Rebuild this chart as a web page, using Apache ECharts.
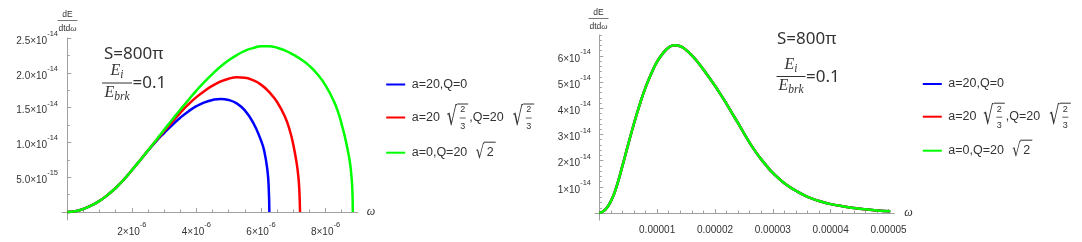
<!DOCTYPE html>
<html><head><meta charset="utf-8">
<script src="https://cdn.jsdelivr.net/npm/echarts@6/dist/echarts.min.js"></script>
<style>html,body{margin:0;padding:0;background:#fff}#c{width:1082px;height:242px}</style>
</head><body><div id="c"></div>
<script>
// ---------------- DATA ----------------
const seriesNames = ['a=20,Q=0', 'a=20 √(2/3),Q=20 √(2/3)', 'a=0,Q=20 √2'];
const seriesColors = ['#0000ff', '#ff0000', '#00ff00'];

// Left panel: [omega, dE/dtdω]
const leftBlue = [[0,0],[0.25e-6,0.11e-15],[0.5e-6,0.45e-15],[0.75e-6,0.95e-15],[1.0e-6,1.6e-15],[1.25e-6,2.45e-15],[1.5e-6,3.45e-15],[1.75e-6,4.65e-15],[2.0e-6,6.0e-15],[2.25e-6,7.4e-15],[2.5e-6,8.8e-15],[2.75e-6,10.15e-15],[3.0e-6,11.35e-15],[3.25e-6,12.5e-15],[3.5e-6,13.55e-15],[3.75e-6,14.45e-15],[4.0e-6,15.2e-15],[4.25e-6,15.75e-15],[4.5e-6,16.1e-15],[4.75e-6,16.25e-15],[5.0e-6,16.1e-15],[5.25e-6,15.6e-15],[5.5e-6,14.6e-15],[5.75e-6,12.9e-15],[6.0e-6,10.3e-15],[6.1e-6,8.8e-15],[6.2e-6,6.0e-15],[6.24e-6,3.5e-15],[6.26e-6,0]];
const leftRed = [[0,0],[0.25e-6,0.11e-15],[0.5e-6,0.45e-15],[0.75e-6,0.95e-15],[1.0e-6,1.6e-15],[1.25e-6,2.45e-15],[1.5e-6,3.45e-15],[1.75e-6,4.65e-15],[2.0e-6,6.0e-15],[2.25e-6,7.4e-15],[2.5e-6,8.85e-15],[2.75e-6,10.25e-15],[3.0e-6,11.6e-15],[3.25e-6,12.95e-15],[3.5e-6,14.25e-15],[3.75e-6,15.45e-15],[4.0e-6,16.5e-15],[4.25e-6,17.4e-15],[4.5e-6,18.15e-15],[4.75e-6,18.75e-15],[5.0e-6,19.15e-15],[5.25e-6,19.35e-15],[5.5e-6,19.3e-15],[5.75e-6,18.95e-15],[6.0e-6,18.3e-15],[6.25e-6,17.25e-15],[6.5e-6,15.8e-15],[6.75e-6,13.6e-15],[6.9e-6,11.6e-15],[7.0e-6,9.7e-15],[7.1e-6,7.2e-15],[7.16e-6,5.0e-15],[7.19e-6,3.0e-15],[7.21e-6,0]];
const leftGreen = [[0,0],[0.25e-6,0.11e-15],[0.5e-6,0.45e-15],[0.75e-6,0.95e-15],[1.0e-6,1.6e-15],[1.25e-6,2.45e-15],[1.5e-6,3.45e-15],[1.75e-6,4.65e-15],[2.0e-6,6.0e-15],[2.25e-6,7.4e-15],[2.5e-6,8.85e-15],[2.75e-6,10.3e-15],[3.0e-6,11.8e-15],[3.25e-6,13.25e-15],[3.5e-6,14.7e-15],[3.75e-6,16.1e-15],[4.0e-6,17.45e-15],[4.25e-6,18.7e-15],[4.5e-6,19.85e-15],[4.75e-6,20.9e-15],[5.0e-6,21.8e-15],[5.25e-6,22.55e-15],[5.5e-6,23.15e-15],[5.75e-6,23.55e-15],[6.0e-6,23.8e-15],[6.25e-6,23.8e-15],[6.5e-6,23.6e-15],[6.75e-6,23.2e-15],[7.0e-6,22.6e-15],[7.25e-6,21.9e-15],[7.5e-6,21.0e-15],[7.75e-6,19.8e-15],[8.0e-6,18.2e-15],[8.25e-6,16.0e-15],[8.4e-6,14.2e-15],[8.5e-6,12.6e-15],[8.6e-6,10.8e-15],[8.7e-6,8.6e-15],[8.76e-6,7.0e-15],[8.8e-6,5.3e-15],[8.83e-6,3.3e-15],[8.845e-6,0]];

// Right panel (all three curves coincide)
const rightCurve = [[0,0],[0.1e-5,0.12e-14],[0.2e-5,0.45e-14],[0.3e-5,1.02e-14],[0.4e-5,1.8e-14],[0.5e-5,2.62e-14],[0.6e-5,3.42e-14],[0.7e-5,4.15e-14],[0.8e-5,4.8e-14],[0.9e-5,5.33e-14],[1.0e-5,5.78e-14],[1.1e-5,6.1e-14],[1.2e-5,6.32e-14],[1.3e-5,6.41e-14],[1.4e-5,6.37e-14],[1.5e-5,6.23e-14],[1.6e-5,6.02e-14],[1.7e-5,5.77e-14],[1.8e-5,5.48e-14],[1.9e-5,5.18e-14],[2.0e-5,4.86e-14],[2.1e-5,4.52e-14],[2.2e-5,4.17e-14],[2.3e-5,3.8e-14],[2.4e-5,3.43e-14],[2.5e-5,3.05e-14],[2.6e-5,2.68e-14],[2.7e-5,2.35e-14],[2.8e-5,2.05e-14],[2.9e-5,1.78e-14],[3.0e-5,1.53e-14],[3.2e-5,1.14e-14],[3.4e-5,0.85e-14],[3.6e-5,0.62e-14],[3.8e-5,0.46e-14],[4.0e-5,0.34e-14],[4.2e-5,0.26e-14],[4.4e-5,0.19e-14],[4.6e-5,0.14e-14],[4.8e-5,0.1e-14],[5.03e-5,0.07e-14]];

// Tick values / labels
const leftXTickValues = [2e-6, 4e-6, 6e-6, 8e-6];
const leftXTickLabels = ['2×10^-6', '4×10^-6', '6×10^-6', '8×10^-6'];
const leftYTickValues = [5e-15, 1.0e-14, 1.5e-14, 2.0e-14, 2.5e-14];
const leftYTickLabels = ['5.0×10^-15', '1.0×10^-14', '1.5×10^-14', '2.0×10^-14', '2.5×10^-14'];
const rightXTickValues = [1e-5, 2e-5, 3e-5, 4e-5, 5e-5];
const rightXTickLabels = ['0.00001', '0.00002', '0.00003', '0.00004', '0.00005'];
const rightYTickValues = [1e-14, 2e-14, 3e-14, 4e-14, 5e-14, 6e-14];
const rightYTickLabels = ['1×10^-14', '2×10^-14', '3×10^-14', '4×10^-14', '5×10^-14', '6×10^-14'];

// ---------------- BUILD ----------------
const AXIS = '#a0a0a0', TXT = '#333';
const FONT = '"Liberation Sans", Arial, sans-serif';
function richOf(lbl) {
  const p = lbl.split('^');
  return p.length > 1 ? '{b|' + p[0] + '}{s|' + p[1] + '}' : '{p|' + lbl + '}';
}
const labelRich = {
  b: {fontSize: 10, fontFamily: FONT, color: TXT, lineHeight: 16, verticalAlign: 'bottom'},
  s: {fontSize: 7.5, fontFamily: FONT, color: TXT, lineHeight: 8, verticalAlign: 'top'},
  p: {fontSize: 10, fontFamily: FONT, color: TXT, lineHeight: 12}
};
function fmt(vals, labels) {
  return v => { const i = vals.findIndex(t => Math.abs(t - v) < Math.abs(t) * 1e-6); return i < 0 ? '' : richOf(labels[i]); };
}
function minorTicks(step, max, majorStep) {
  const a = [];
  for (let k = 1; k * step <= max * (1 + 1e-9); k++) {
    const v = k * step, r = v / majorStep;
    if (Math.abs(r - Math.round(r)) > 1e-6) a.push(v);
  }
  return a;
}
function mainAxis(grid, pos, min, max, vals, labels, margin, extra) {
  return Object.assign({
    type: 'value', gridIndex: grid, position: pos, min: min, max: max,
    axisLine: {show: true, onZero: true, lineStyle: {color: AXIS, width: 1}},
    axisTick: {show: true, inside: true, length: 4, customValues: [0].concat(vals), lineStyle: {color: AXIS}},
    axisLabel: {show: true, customValues: vals, formatter: fmt(vals, labels), rich: labelRich, margin: margin},
    splitLine: {show: false}
  }, extra || {});
}
function minorAxis(grid, pos, min, max, ticks) {
  return {
    type: 'value', gridIndex: grid, position: pos, min: min, max: max,
    axisLine: {show: false, onZero: true},
    axisTick: {show: true, inside: true, length: 2.5, customValues: ticks, lineStyle: {color: AXIS}},
    axisLabel: {show: false}, splitLine: {show: false}
  };
}
const omegaName = (gap, pad) => ({name: 'ω', nameLocation: 'end', nameGap: gap,
  nameTextStyle: {fontFamily: '"Liberation Serif", serif', fontStyle: 'italic', fontSize: 12, color: TXT, padding: pad}});

const L = {xmin: -0.164e-6, xmax: 9e-6, ymin: -1.15e-15, ymax: 2.5e-14};
const R = {xmin: -0.074e-5, xmax: 5.1e-5, ymin: -0.27e-14, ymax: 6.8e-14};

const xAxis = [
  mainAxis(0, 'bottom', L.xmin, L.xmax, leftXTickValues, leftXTickLabels, 1, omegaName(9, [0, 0, 0, 0])),
  minorAxis(0, 'bottom', L.xmin, L.xmax, minorTicks(0.5e-6, 8.5e-6, 2e-6)),
  mainAxis(1, 'bottom', R.xmin, R.xmax, rightXTickValues, rightXTickLabels, 4, omegaName(10, [0, 0, 8, 0])),
  minorAxis(1, 'bottom', R.xmin, R.xmax, minorTicks(0.2e-5, 5e-5, 1e-5))
];
const yAxis = [
  mainAxis(0, 'left', L.ymin, L.ymax, leftYTickValues, leftYTickLabels, 4),
  minorAxis(0, 'left', L.ymin, L.ymax, minorTicks(2.5e-15, 2.5e-14, 5e-15)),
  mainAxis(1, 'left', R.ymin, R.ymax, rightYTickValues, rightYTickLabels, 4),
  minorAxis(1, 'left', R.ymin, R.ymax, minorTicks(0.2e-14, 6.8e-14, 1e-14))
];

const leftData = [leftBlue, leftRed, leftGreen];
const series = [];
[0, 1, 2].forEach(i => series.push({
  type: 'line', name: seriesNames[i], xAxisIndex: 0, yAxisIndex: 0, data: leftData[i],
  showSymbol: false, smooth: 0.5, lineStyle: {color: seriesColors[i], width: 2.5}, z: 2 + i
}));
[0, 1, 2].forEach(i => series.push({
  type: 'line', name: seriesNames[i], xAxisIndex: 2, yAxisIndex: 2, data: rightCurve,
  showSymbol: false, smooth: 0.5, lineStyle: {color: seriesColors[i], width: 2.5}, z: 2 + i
}));

// ---------- text annotations (legend, titles) ----------
const serif = '"Liberation Serif", "DejaVu Serif", serif';
function txt(x, y, s, size, opts, tr) {
  return Object.assign({type: 'text', x: x, y: y,
    style: Object.assign({x: 0, y: 0, text: s, fontSize: size, fontFamily: FONT, fill: TXT, align: 'left', verticalAlign: 'middle'}, opts || {})}, tr || {});
}
function hline(x1, x2, y, color, w) {
  return {type: 'line', shape: {x1: x1, y1: y, x2: x2, y2: y}, style: {stroke: color || TXT, lineWidth: w || 1}};
}
const eRich = {
  e: {fontFamily: serif, fontStyle: 'italic', fontSize: 16, fill: TXT, lineHeight: 18, verticalAlign: 'top'},
  i: {fontFamily: serif, fontStyle: 'italic', fontSize: 11.5, fill: TXT, lineHeight: 9, verticalAlign: 'bottom'}
};
function annotation(sx, sy, cx, barY, barW) {
  return [
    txt(sx, sy, 'S=800π', 17, {fontFamily: '"Noto Sans", sans-serif'}),
    txt(cx, barY - 10.5, '{e|E}{i|i}', 16, {align: 'center', rich: eRich}),
    hline(cx - barW / 2, cx + barW / 2, barY + 0.5, TXT, 1),
    txt(cx, barY + 11, '{e|E}{i|brk}', 16, {align: 'center', rich: eRich}),
    txt(cx + barW / 2 + 0.5, barY + 1, '=0.1', 17, {fontFamily: '"Noto Sans", sans-serif'})
  ];
}
function yTitle(cx, top) {
  return [
    txt(cx, top, 'dE', 8.5, {align: 'center'}),
    hline(cx - 10, cx + 10, top + 5.5, '#555', 0.8),
    txt(cx, top + 14, '{a|dtd}{w|ω}', 8.5, {align: 'center', rich: {a: {fontFamily: FONT, fontSize: 8.5, fill: TXT}, w: {fontFamily: serif, fontStyle: 'italic', fontSize: 9, fill: TXT}}})
  ];
}
const LFS = 12.5;
function radical(x, yc, size, sx, over1, over2, overY) {
  return [
    txt(x, yc, '√', size, {fontFamily: '"DejaVu Sans", sans-serif'}, {scaleX: sx}),
    hline(over1, over2, overY, TXT, 1)
  ];
}
function frac23(cx, y) {
  return [
    txt(cx, y - 7.5, '2', 9, {align: 'center'}),
    hline(cx - 3, cx + 3, y + 0.5, TXT, 0.8),
    txt(cx, y + 9, '3', 9, {align: 'center'})
  ];
}
function legend(X, rows) {
  const els = [];
  rows.forEach((y, i) => els.push(hline(X - 25.5, X - 6.5, y, seriesColors[i], 2)));
  const y0 = rows[0], y1 = rows[1], y2 = rows[2];
  els.push(txt(X, y0, 'a=20,Q=0', LFS));
  els.push(txt(X, y1, 'a=20', LFS));
  els.push(...radical(X + 35, y1 + 1, 26, 0.62, X + 45.5, X + 56.5, y1 - 13.5));
  els.push(...frac23(X + 51, y1));
  els.push(txt(X + 57.5, y1, ',Q=20', LFS));
  els.push(...radical(X + 101, y1 + 1, 26, 0.62, X + 111.5, X + 122.5, y1 - 13.5));
  els.push(...frac23(X + 117, y1));
  els.push(txt(X, y2, 'a=0,Q=20', LFS));
  els.push(...radical(X + 64, y2, 19, 0.7, X + 72, X + 84, y2 - 10.5));
  els.push(txt(X + 75, y2, '2', LFS));
  return els;
}

const graphic = [].concat(
  annotation(104, 54, 117, 82.5, 30),
  annotation(777, 39, 791, 76, 29),
  yTitle(67.5, 15),
  yTitle(598.5, 13),
  legend(411.7, [84.5, 117.5, 152.7]),
  legend(948.3, [84, 116.7, 150.7])
);

const option = {
  animation: false,
  backgroundColor: '#fff',
  grid: [
    {left: 62, top: 38, width: 295.8, height: 182, containLabel: false},
    {left: 595, top: 35, width: 299.3, height: 185.1, containLabel: false}
  ],
  xAxis: xAxis, yAxis: yAxis, series: series, graphic: graphic
};
const chart = echarts.init(document.getElementById('c'), null, {renderer: 'canvas'});
chart.setOption(option);
</script></body></html>
